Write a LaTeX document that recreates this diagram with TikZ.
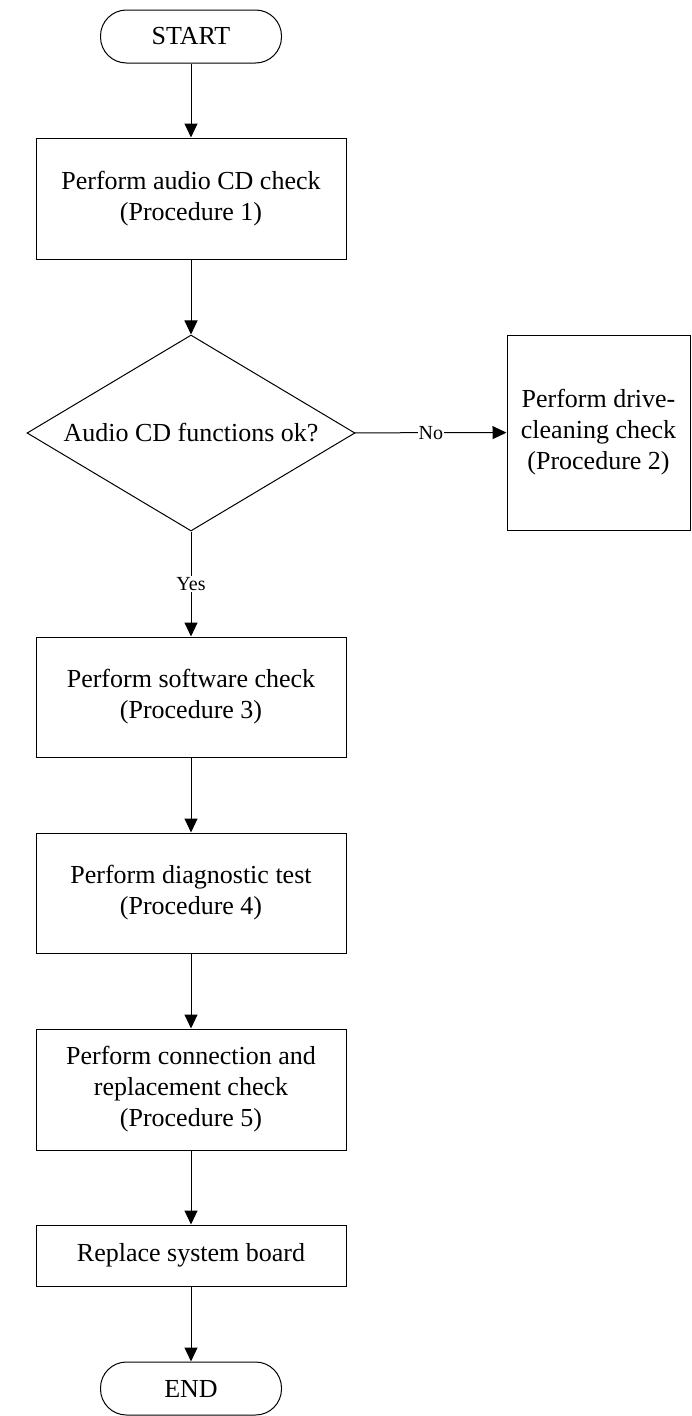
\documentclass[tikz,border=0pt]{standalone}
\usepackage{fontspec}
\setmainfont{Liberation Serif}
\usetikzlibrary{arrows.meta}
\usetikzlibrary{shapes.geometric}

\begin{document}
\begin{tikzpicture}[x=1pt, y=-1pt,
        font=\fontsize{26}{31}\selectfont,
        procbox/.style={draw, line width=1pt, align=center, minimum width=310pt, inner sep=0pt},
        termbox/.style={draw, line width=1pt, rounded corners=26pt, minimum width=181pt, minimum height=53pt, inner sep=0pt},
        flow/.style={-{Triangle[length=14pt, width=13pt]}, line width=1pt},
        answer/.style={fill=white, inner sep=1pt, font=\fontsize{20}{22}\selectfont}]
        \useasboundingbox (0,0) rectangle (691,1416);

        \node[termbox] (start) at (191,36.5) {START};
        \node[procbox, minimum height=121pt] (audio) at (191,198.5) {Perform audio CD check\\(Procedure 1)};
        \node[draw, diamond, aspect=1.67, minimum width=328pt, minimum height=196pt, inner sep=0pt, line width=1pt] (cdok) at (191,433) {Audio CD functions ok?};
        \node[procbox, minimum width=183pt, minimum height=195pt] (clean) at (598.5,432.5) {Perform drive-\\cleaning check\\(Procedure 2)};
        \node[procbox, minimum height=120pt] (soft) at (191,697) {Perform software check\\(Procedure 3)};
        \node[procbox, minimum height=120pt] (diag) at (191,893) {Perform diagnostic test\\(Procedure 4)};
        \node[procbox, minimum height=121pt] (conn) at (191,1089.5) {Perform connection and\\replacement check\\(Procedure 5)};
        \node[procbox, minimum height=61pt] (board) at (191,1255.5) {Replace system board};
        \node[termbox] (end) at (191,1388.5) {END};

        \draw[flow] (start) -- (audio);
        \draw[flow] (audio) -- (cdok);
        \draw[flow] (cdok) -- node[answer] {No} (clean);
        \draw[flow] (cdok) -- node[answer] {Yes} (soft);
        \draw[flow] (soft) -- (diag);
        \draw[flow] (diag) -- (conn);
        \draw[flow] (conn) -- (board);
        \draw[flow] (board) -- (end);
    \end{tikzpicture}
\end{document}
